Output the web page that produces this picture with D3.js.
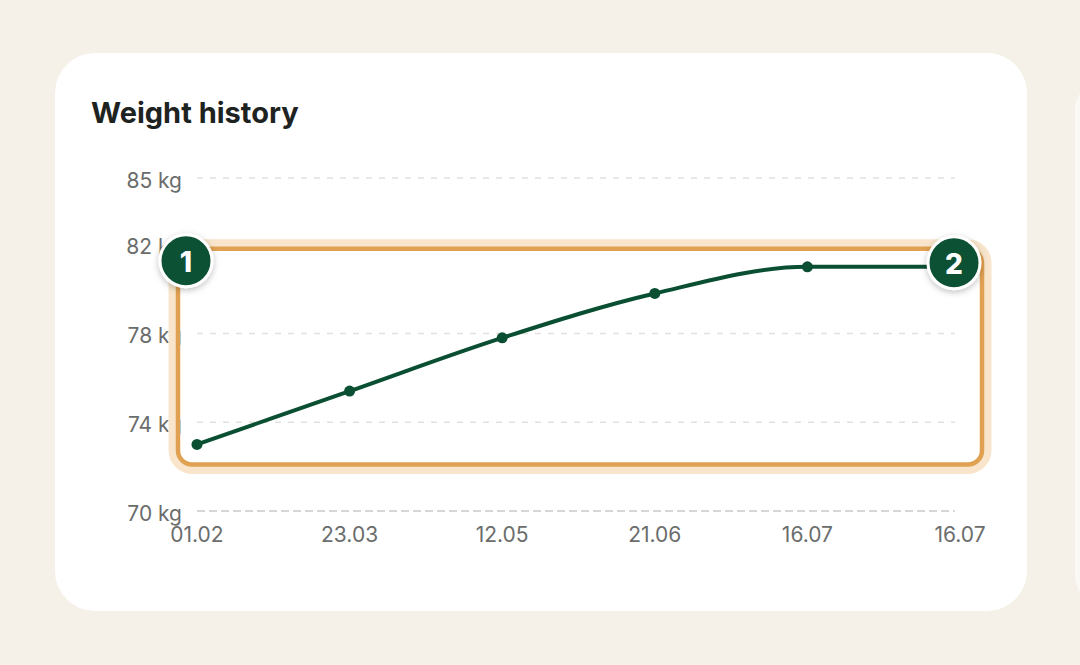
<!DOCTYPE html>
<html>
<head>
<meta charset="utf-8">
<script src="https://cdn.jsdelivr.net/npm/d3@7"></script>
<style>
  body { margin: 0; background: #f5f1e8; }
  svg { display: block; font-family: Inter, "Noto Sans", sans-serif; }
</style>
</head>
<body>
<div id="graphic"></div>
<script>
// weight readings, one per date label
const dates = ['01.02', '23.03', '12.05', '21.06', '16.07', '16.07']
const weights = [73, 75.4, 77.8, 79.8, 81, 81]
const yTicks = [70, 74, 78, 82, 85]
// numbered markers sit on the first and last reading
const markers = [
  { label: '1', index: 0 },
  { label: '2', index: 5 }
]

;(function () {
  var width = 1080
  var height = 665

  var svg = d3.select('#graphic')
    .append('svg')
    .attr('width', width)
    .attr('height', height)

  var defs = svg.append('defs')
  var shadow = defs.append('filter')
    .attr('id', 'badge-shadow')
    .attr('x', '-50%').attr('y', '-50%')
    .attr('width', '200%').attr('height', '200%')
  shadow.append('feDropShadow')
    .attr('dx', 0).attr('dy', 2)
    .attr('stdDeviation', 3)
    .attr('flood-color', '#000')
    .attr('flood-opacity', 0.25)

  // next card peeking in from the right
  svg.append('rect')
    .attr('x', 1075).attr('y', 80)
    .attr('width', 60).attr('height', 525)
    .attr('rx', 30)
    .attr('fill', '#fbf9f5')

  // card
  svg.append('rect')
    .attr('x', 55).attr('y', 53)
    .attr('width', 972).attr('height', 558)
    .attr('rx', 40)
    .attr('fill', '#ffffff')

  svg.append('text')
    .attr('x', 91).attr('y', 123)
    .attr('font-size', 29)
    .attr('font-weight', 700)
    .attr('fill', '#1e2321')
    .text('Weight history')

  var x = d3.scalePoint()
    .domain(d3.range(dates.length))
    .range([197, 960])

  var y = d3.scaleLinear()
    .domain([70, 85])
    .range([511, 178])

  // gridlines
  svg.append('g')
    .selectAll('line')
    .data(yTicks)
    .enter().append('line')
    .attr('x1', 197).attr('x2', 955)
    .attr('y1', d => y(d)).attr('y2', d => y(d))
    .attr('stroke', d => d == 70 ? '#c9c9c6' : '#e3e1dc')
    .attr('stroke-width', 1.5)
    .attr('stroke-dasharray', d => d == 70 ? '8,4' : '6,7')

  // y labels
  svg.append('g')
    .selectAll('text')
    .data(yTicks)
    .enter().append('text')
    .attr('x', 182)
    .attr('y', d => y(d) + 4)
    .attr('text-anchor', 'end')
    .attr('dominant-baseline', 'middle')
    .attr('font-size', 21)
    .attr('fill', '#6a6d6b')
    .text(d => d + ' kg')

  // x labels
  svg.append('g')
    .selectAll('text')
    .data(dates)
    .enter().append('text')
    .attr('x', (d, i) => x(i))
    .attr('y', 536)
    .attr('text-anchor', 'middle')
    .attr('dominant-baseline', 'middle')
    .attr('font-size', 21)
    .attr('fill', '#6a6d6b')
    .text(d => d)

  // highlight box round the whole series
  var boxLeft = x(0) - 19
  var boxRight = x(dates.length - 1) + 22
  var boxTop = y(d3.max(weights)) - 18
  var boxBottom = y(d3.min(weights)) + 20

  svg.append('rect')
    .attr('x', boxLeft - 5).attr('y', boxTop - 5)
    .attr('width', boxRight - boxLeft + 10)
    .attr('height', boxBottom - boxTop + 10)
    .attr('rx', 19)
    .attr('fill', 'none')
    .attr('stroke', '#f8e5cc')
    .attr('stroke-width', 9)

  svg.append('rect')
    .attr('x', boxLeft).attr('y', boxTop)
    .attr('width', boxRight - boxLeft)
    .attr('height', boxBottom - boxTop)
    .attr('rx', 14)
    .attr('fill', 'none')
    .attr('stroke', '#e0a152')
    .attr('stroke-width', 4.5)

  // the weight line
  var line = d3.line()
    .x((d, i) => x(i))
    .y(d => y(d))
    .curve(d3.curveMonotoneX)

  svg.append('path')
    .datum(weights)
    .attr('d', line)
    .attr('fill', 'none')
    .attr('stroke', '#0b4f33')
    .attr('stroke-width', 4)

  svg.append('g')
    .selectAll('circle')
    .data(weights)
    .enter().append('circle')
    .attr('cx', (d, i) => x(i))
    .attr('cy', d => y(d))
    .attr('r', 5.5)
    .attr('fill', '#0b4f33')

  // numbered badges on the box corners
  var badges = svg.append('g')
    .selectAll('g')
    .data(markers)
    .enter().append('g')
    .attr('transform', d => {
      var bx = d.index == 0 ? boxLeft + 8 : boxRight - 28
      var by = d.index == 0 ? boxTop + 12 : boxTop + 14
      return 'translate(' + bx + ',' + by + ')'
    })

  badges.append('circle')
    .attr('r', 26)
    .attr('fill', '#0b5134')
    .attr('stroke', '#ffffff')
    .attr('stroke-width', 3)
    .attr('filter', 'url(#badge-shadow)')

  badges.append('text')
    .attr('text-anchor', 'middle')
    .attr('dominant-baseline', 'central')
    .attr('y', 1)
    .attr('font-size', 28)
    .attr('font-weight', 800)
    .attr('fill', '#ffffff')
    .text(d => d.label)
})()
</script>
</body>
</html>
